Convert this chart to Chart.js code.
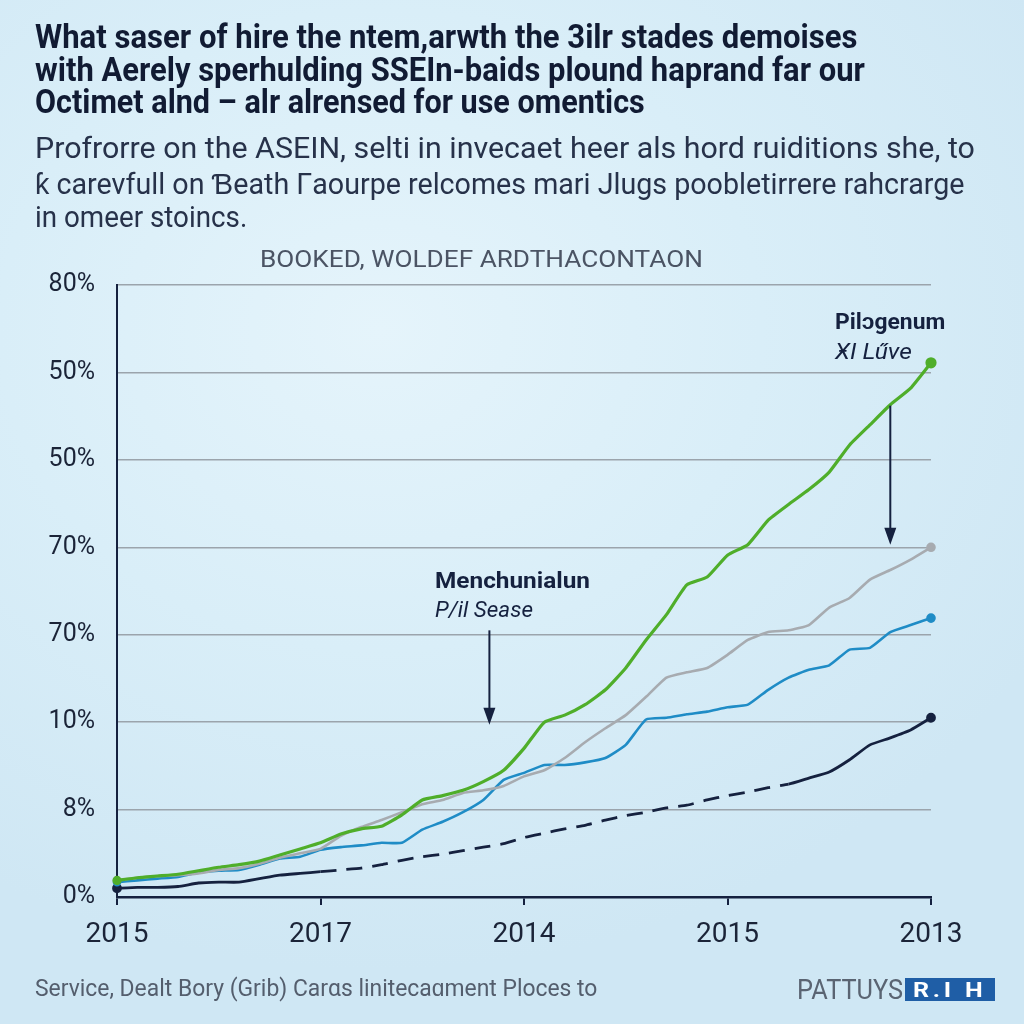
<!DOCTYPE html>
<html><head><meta charset="utf-8">
<script src="https://cdn.jsdelivr.net/npm/chart.js@4/dist/chart.umd.min.js"></script>
<style>
html,body{margin:0;padding:0;}
body{width:1024px;height:1024px;overflow:hidden;position:relative;
background: radial-gradient(ellipse 760px 640px at 380px 330px, #e5f4fb 0%, #d9eef8 50%, #cfe7f4 100%);
font-family: Roboto, "Liberation Sans", sans-serif;}
canvas{position:absolute;left:0;top:0;}
.t{position:absolute;white-space:nowrap;transform-origin:0 0;line-height:1;}
.h{font-weight:700;font-size:33px;color:#111b33;}
.s{font-weight:400;font-size:30px;color:#27324a;}
</style></head>
<body>
<canvas id="c" width="1024" height="1024"></canvas>
<div class="t h" data-x="35" data-y="36" data-w="822">What saser of hire the ntem,arwth the 3ilr stades demoises</div>
<div class="t h" data-x="35" data-y="69" data-w="830">with Aerely sperhulding SSEIn-baids plound haprand far our</div>
<div class="t h" data-x="35" data-y="101" data-w="610">Octimet alnd – alr alrensed for use omentics</div>
<div class="t s" data-x="35" data-y="148" data-w="940">Profrorre on the ASEIN, selti in invecaet heer als hord ruiditions she, to</div>
<div class="t s" data-x="35" data-y="184" data-w="930">ƙ carevfull on Ɓeath Γaourpe relcomes mari Jlugs poobletirrere rahcrarge</div>
<div class="t s" data-x="35" data-y="217" data-w="212">in omeer stoincs.</div>
<div class="t" style="font-size:23px;color:#4b5464;" data-x="260" data-y="259" data-w="443">BOOKED, WOLDEF ARDTHACONTAON</div>
<div class="t" style="font-size:22px;font-weight:700;color:#15213f;" data-x="435" data-y="581" data-w="155">Menchunialun</div>
<div class="t" style="font-size:22px;font-style:italic;color:#15213f;" data-x="435" data-y="610" data-w="98">P/il Sease</div>
<div class="t" style="font-size:22px;font-weight:700;color:#15213f;" data-x="835" data-y="322" data-w="110">Pilɔgenum</div>
<div class="t" style="font-size:22px;font-style:italic;color:#15213f;" data-x="835" data-y="352" data-w="77">ӾI Lűve</div>
<div class="t" style="font-size:23px;color:#545e6d;" data-x="35" data-y="988" data-w="562">Service, Dealt Bory (Grib) Carαs linitecaɑment Ploces to</div>
<div class="t" style="font-size:27px;color:#5a6472;" data-x="797" data-y="990" data-w="106">PATTUYS</div>
<div style="position:absolute;left:905px;top:978px;width:90px;height:23px;background:#1f5ea6;"></div>
<div class="t" style="font-size:20px;font-weight:700;color:#ffffff;letter-spacing:3px;" data-x="913" data-y="990" data-w="74">R.I H</div>
<script>
// ---- data ----
const xLabels = ["2015","2017","2014","2015","2013"];
const yLabels = ["0%","8%","10%","70%","70%","50%","50%","80%"];
const xs = [0,0.1,0.2,0.3,0.4,0.5,0.6,0.7,0.8,0.9,1.0,1.1,1.2,1.3,1.4,1.5,1.6,1.7,1.8,1.9,2.0,2.1,2.2,2.3,2.4,2.5,2.6,2.7,2.8,2.9,3.0,3.1,3.2,3.3,3.4,3.5,3.6,3.7,3.8,3.9,4.0];
const greenVals = [0.19,0.22,0.24,0.26,0.30,0.34,0.37,0.41,0.48,0.55,0.62,0.72,0.78,0.81,0.94,1.11,1.16,1.22,1.32,1.45,1.70,2.00,2.08,2.20,2.37,2.62,2.94,3.23,3.57,3.66,3.91,4.03,4.31,4.49,4.66,4.86,5.17,5.40,5.63,5.82,6.11];
const grayVals = [0.19,0.22,0.24,0.25,0.27,0.31,0.33,0.38,0.45,0.50,0.55,0.70,0.80,0.88,0.97,1.06,1.11,1.19,1.22,1.27,1.38,1.45,1.59,1.77,1.93,2.08,2.29,2.51,2.57,2.62,2.77,2.94,3.03,3.05,3.11,3.31,3.42,3.63,3.74,3.86,4.00];
const blueVals = [0.17,0.19,0.21,0.23,0.28,0.30,0.31,0.37,0.44,0.46,0.54,0.57,0.59,0.62,0.62,0.77,0.86,0.97,1.11,1.34,1.42,1.51,1.51,1.54,1.59,1.74,2.03,2.05,2.09,2.12,2.17,2.20,2.37,2.51,2.60,2.65,2.83,2.85,3.03,3.11,3.19];
const navyVals = [0.10,0.11,0.11,0.12,0.16,0.17,0.17,0.21,0.25,0.27,0.29,0.31,0.33,0.37,0.42,0.46,0.49,0.53,0.57,0.61,0.68,0.73,0.78,0.82,0.88,0.93,0.97,1.02,1.05,1.11,1.16,1.20,1.25,1.29,1.36,1.43,1.57,1.74,1.82,1.91,2.05];
const dashedFrom = 1.0, dashedTo = 3.3;
const arrows = [{x:1.83, y0:3.05, y1:1.97},{x:3.80, y0:5.62, y1:4.03}];

// fit text
document.querySelectorAll('.t').forEach(el=>{
  el.style.left = el.dataset.x+'px';
  el.style.top = el.dataset.y+'px';
  const s = (+el.dataset.w)/el.offsetWidth;
  el.style.transform = 'translateY(-50%) scaleX('+s+')';
});

const pts = arr => xs.map((x,i)=>({x:x,y:arr[i]}));
const last = xs.length-1;
const radius = (r0,r1)=> c => c.dataIndex===last ? r1 : (c.dataIndex===0 ? r0 : 0);
const NAVY = '#15213f';

const arrowPlugin = {
  id:'arrows',
  afterDatasetsDraw(chart){
    const {ctx, scales:{x,y}} = chart;
    arrows.forEach(a=>{
      const px = x.getPixelForValue(a.x), p0 = y.getPixelForValue(a.y0), p1 = y.getPixelForValue(a.y1);
      ctx.save();
      ctx.strokeStyle = NAVY; ctx.fillStyle = NAVY; ctx.lineWidth = 2;
      ctx.beginPath(); ctx.moveTo(px,p0); ctx.lineTo(px,p1-14); ctx.stroke();
      ctx.beginPath(); ctx.moveTo(px-6,p1-17); ctx.lineTo(px+6,p1-17); ctx.lineTo(px,p1); ctx.closePath(); ctx.fill();
      ctx.restore();
    });
  }
};

new Chart(document.getElementById('c'), {
  type:'line',
  data:{datasets:[
    {data:pts(greenVals), borderColor:'#4fae2a', backgroundColor:'#4fae2a', borderWidth:3.2, pointRadius:radius(3,4), tension:0.15, clip:8},
    {data:pts(grayVals), borderColor:'#a7abb0', backgroundColor:'#a7abb0', borderWidth:2.6, pointRadius:radius(3,3.5), tension:0.15, clip:8},
    {data:pts(blueVals), borderColor:'#1f8cc6', backgroundColor:'#1f8cc6', borderWidth:2.6, pointRadius:radius(3,3.5), tension:0.15, clip:8},
    {data:pts(navyVals), borderColor:NAVY, backgroundColor:NAVY, borderWidth:2.8, pointRadius:radius(3.5,3.5), tension:0.15, clip:8,
      segment:{borderDash: c => (c.p0.parsed.x >= dashedFrom - 1e-9 && c.p0.parsed.x < dashedTo - 1e-9) ? [16,10] : undefined}}
  ]},
  options:{
    responsive:false, animation:false, devicePixelRatio:1,
    layout:{padding:{top:285,right:93,left:0,bottom:0}},
    plugins:{legend:{display:false}, tooltip:{enabled:false}, title:{display:false}},
    elements:{point:{borderWidth:0}},
    scales:{
      x:{type:'linear', min:0, max:4,
        ticks:{stepSize:1, autoSkip:false, padding:13, color:'#1b2438', font:{family:'Roboto', size:28},
          callback:v=>xLabels[v]},
        grid:{drawOnChartArea:false, drawTicks:true, tickLength:8, color:NAVY, lineWidth:2},
        border:{color:NAVY, width:2.5},
        afterFit:s=>{s.height=127;}
      },
      y:{type:'linear', min:0, max:7,
        ticks:{stepSize:1, autoSkip:false, padding:22, color:'#1b2438', font:{family:'Roboto', size:25},
          callback:v=>yLabels[v]},
        grid:{drawTicks:false, lineWidth:1.5, color:c=> c.tick && c.tick.value===0 ? 'rgba(0,0,0,0)' : '#9ba4ac'},
        border:{color:NAVY, width:2},
        afterFit:s=>{s.width=117;}
      }
    }
  },
  plugins:[arrowPlugin]
});
</script>
</body></html>
